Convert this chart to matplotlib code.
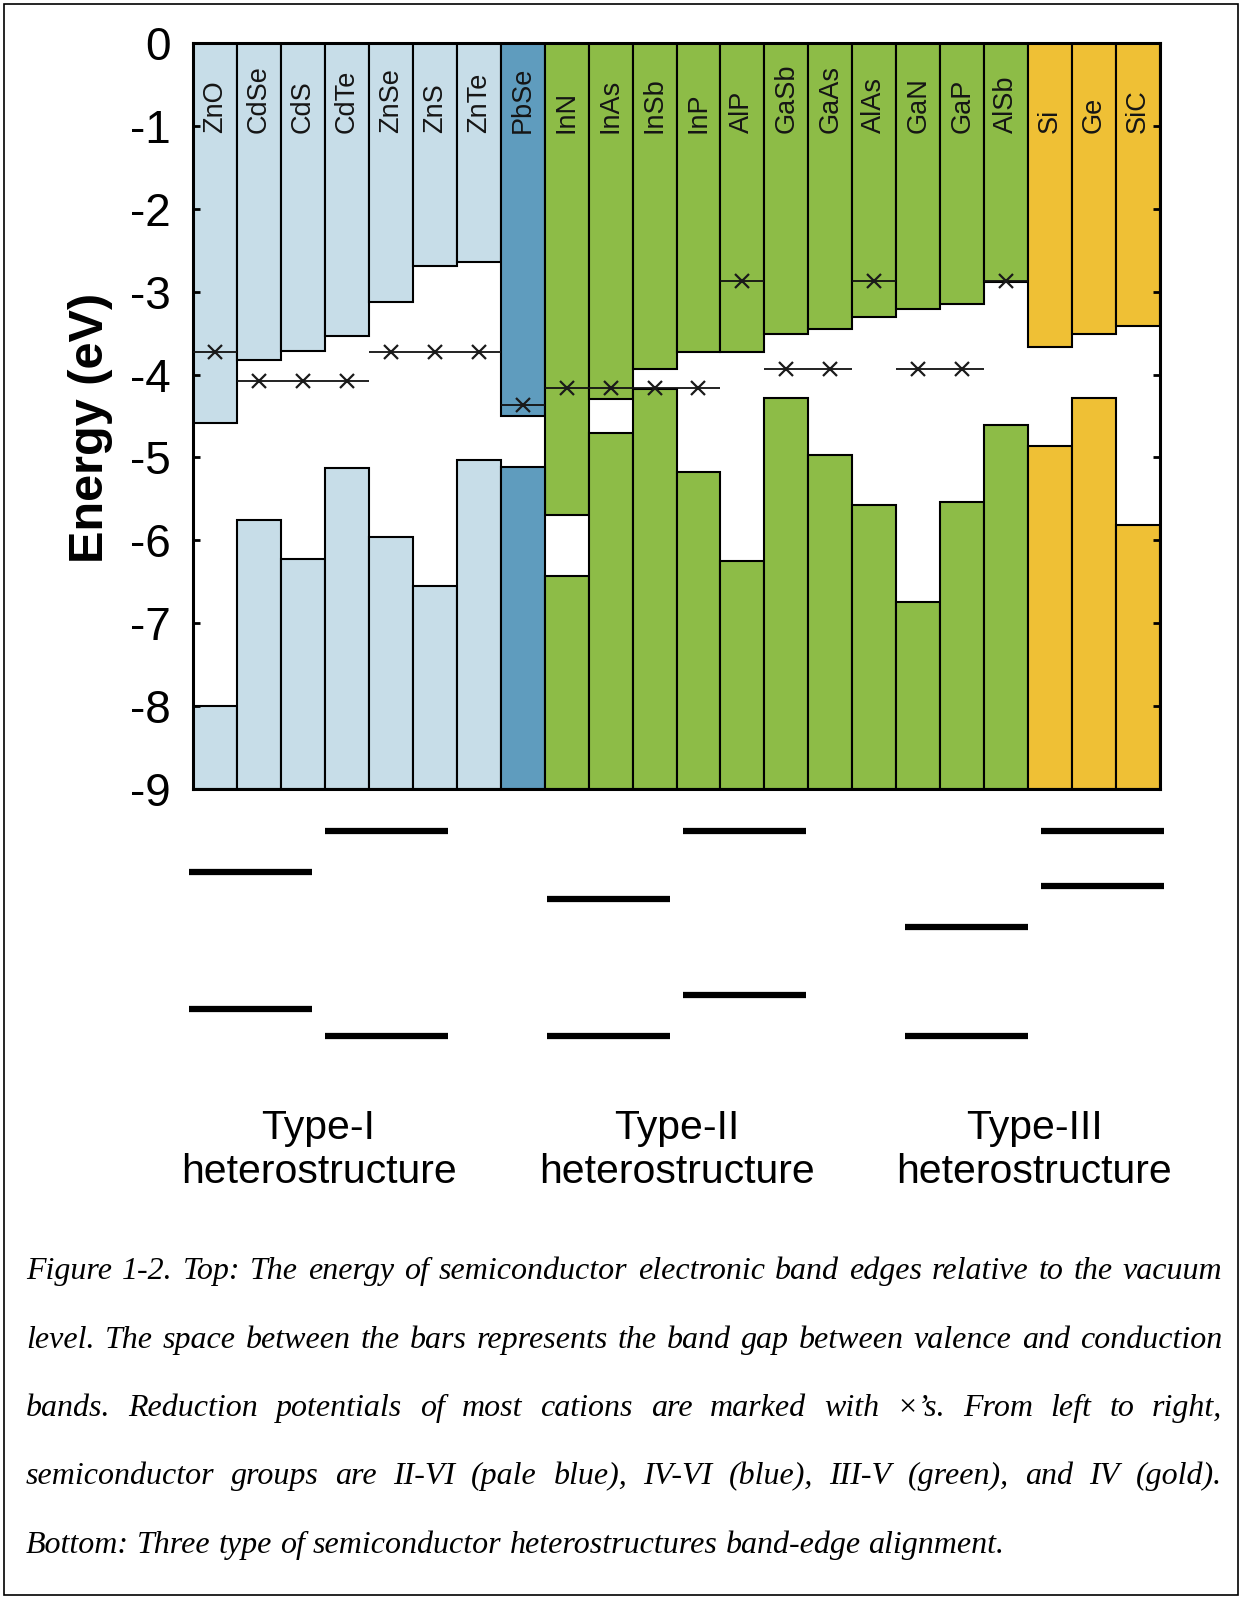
import matplotlib
matplotlib.use("Agg")
import matplotlib.pyplot as plt
from matplotlib.patches import Rectangle
from matplotlib.transforms import blended_transform_factory

plt.rcParams["font.family"] = ["Liberation Sans", "DejaVu Sans"]
plt.rcParams["axes.unicode_minus"] = False

# --- band edges (eV vs vacuum) -------------------------------------------
materiali = ["ZnO", "CdSe", "CdS", "CdTe", "ZnSe", "ZnS", "ZnTe", "PbSe",
             "InN", "InAs", "InSb", "InP", "AlP", "GaSb", "GaAs", "AlAs",
             "GaN", "GaP", "AlSb", "Si", "Ge", "SiC"]
gruppi = ["II-VI"] * 7 + ["IV-VI"] + ["III-V"] * 11 + ["IV"] * 3
banda_conduzione = [-4.59, -3.83, -3.72, -3.53, -3.12, -2.69, -2.64, -4.50,
                    -5.69, -4.30, -3.93, -3.73, -3.73, -3.51, -3.45, -3.31,
                    -3.21, -3.15, -2.88, -3.67, -3.51, -3.41]
banda_valenza = [-8.00, -5.75, -6.23, -5.13, -5.96, -6.55, -5.03, -5.11,
                 -6.43, -4.71, -4.17, -5.17, -6.25, -4.28, -4.97, -5.57,
                 -6.74, -5.54, -4.61, -4.86, -4.28, -5.82]
cationi = ["Zn", "Cd", "Cd", "Cd", "Zn", "Zn", "Zn", "Pb",
           "In", "In", "In", "In", "Al", "Ga", "Ga", "Al",
           "Ga", "Ga", "Al", None, None, None]
potenziale_riduzione = {"Zn": -3.73, "Cd": -4.08, "Pb": -4.37,
                        "In": -4.16, "Al": -2.87, "Ga": -3.93}
colori_gruppo = {"II-VI": "#c7dde8", "IV-VI": "#5f9cbe",
                 "III-V": "#8dbc47", "IV": "#efc035"}
fondo_scala = -9

# --- heterostructure sketch (relative levels, 0 = top) -------------------
tipi = ["Type-I", "Type-II", "Type-III"]
livelli_sinistra = [(1.0, 4.33), (1.67, 5.0), (2.33, 5.0)]
livelli_destra = [(0.0, 5.0), (0.0, 4.0), (0.0, 1.33)]

didascalia = [
    "Figure 1-2. Top: The energy of semiconductor electronic band edges relative to the vacuum",
    "level. The space between the bars represents the band gap between valence and conduction",
    "bands. Reduction potentials of most cations are marked with \u00d7\u2019s. From left to right,",
    "semiconductor groups are II-VI (pale blue), IV-VI (blue), III-V (green), and IV (gold).",
    "Bottom: Three type of semiconductor heterostructures band-edge alignment.",
]

W, H = 1244, 1600
fig = plt.figure(figsize=(W / 100, H / 100), dpi=100)

# --- main band chart ------------------------------------------------------
ax = fig.add_axes([193 / W, 1 - 789 / H, 967 / W, 746 / H])
n = len(materiali)
x = list(range(n))
colori = [colori_gruppo[g] for g in gruppi]

ax.bar(x, [0 - c for c in banda_conduzione], bottom=banda_conduzione, width=1,
       align="edge", color=colori, edgecolor="black", linewidth=1.5, zorder=1)
ax.bar(x, [v - fondo_scala for v in banda_valenza], bottom=fondo_scala, width=1,
       align="edge", color=colori, edgecolor="black", linewidth=1.5, zorder=1)

for i, nome in enumerate(materiali):
    ax.text(i + 0.5, -1.08, nome, rotation=90, ha="center", va="bottom",
            fontsize=19.5, color="#151515", zorder=5)

# runs of consecutive bars sharing the same cation
inizio = 0
for i in range(1, n + 1):
    if i == n or cationi[i] != cationi[inizio]:
        cat = cationi[inizio]
        if cat is not None:
            e = potenziale_riduzione[cat]
            ax.plot([inizio, i], [e, e], color="#111111", lw=1.3, zorder=3,
                    solid_capstyle="butt")
            ax.plot([k + 0.5 for k in range(inizio, i)], [e] * (i - inizio),
                    ls="none", marker="x", ms=10, mew=1.6, color="#1a1a1a", zorder=4)
        inizio = i

ax.set_xlim(0, n)
ax.set_ylim(fondo_scala, 0)
ax.set_xticks([])
ax.set_yticks(range(fondo_scala, 1))
ax.tick_params(axis="y", direction="in", left=True, right=True, length=5,
               width=2, labelsize=33, pad=16)
for sp in ax.spines.values():
    sp.set_linewidth(2.2)
ax.set_ylabel("Energy (eV)", fontsize=35, fontweight="bold")
ax.yaxis.set_label_coords(-0.083, 0.484)

# --- heterostructure sketch ----------------------------------------------
ax2 = fig.add_axes([189 / W, 1 - 1046.25 / H, 975 / W, 225.5 / H])
ax2.set_xlim(0, 7.9)
ax2.set_ylim(5.25, -0.25)
ax2.axis("off")
larg, spazio, passo = 1.0, 0.1, 2.9
trasf = blended_transform_factory(ax2.transData, fig.transFigure)
for k, tipo in enumerate(tipi):
    x0 = k * passo
    ax2.hlines(livelli_sinistra[k], x0, x0 + larg, color="black", lw=4.5)
    ax2.hlines(livelli_destra[k], x0 + larg + spazio, x0 + 2 * larg + spazio,
               color="black", lw=4.5)
    fig.text(x0 + (2 * larg + spazio) / 2, 1 - 1150 / H, f"{tipo}\nheterostructure",
             transform=trasf, ha="center", va="center", fontsize=29.5,
             linespacing=1.22, multialignment="center")

# --- justified caption ----------------------------------------------------
renderer = fig.canvas.get_renderer()
font_cap = dict(family=["Liberation Serif", "DejaVu Serif"], style="italic")
prova = fig.text(0, 0, didascalia[-1], fontsize=20, **font_cap)
dim = 20 * 978 / prova.get_window_extent(renderer).width
prova.remove()

sx, dx = 26, 1222
linee_base = [1279, 1348, 1416, 1484, 1553]
for riga, base in zip(didascalia, linee_base):
    parole = riga.split(" ")
    testi = [fig.text(0, 1 - base / H, p, fontsize=dim, va="baseline", ha="left",
                      **font_cap) for p in parole]
    larghezze = [t.get_window_extent(renderer).width for t in testi]
    if riga is didascalia[-1]:
        gap = fig.text(0, 0, " ", fontsize=dim, **font_cap)
        passo_sp = gap.get_window_extent(renderer).width
        gap.remove()
    else:
        passo_sp = (dx - sx - sum(larghezze)) / (len(parole) - 1)
    pos = sx
    for t, w in zip(testi, larghezze):
        t.set_x(pos / W)
        pos += w + passo_sp

fig.patches.append(Rectangle((4 / W, 5 / H), 1234 / W, 1591 / H,
                             transform=fig.transFigure, fill=False,
                             edgecolor="black", linewidth=1.2))

fig.savefig("out.png", dpi=100)
